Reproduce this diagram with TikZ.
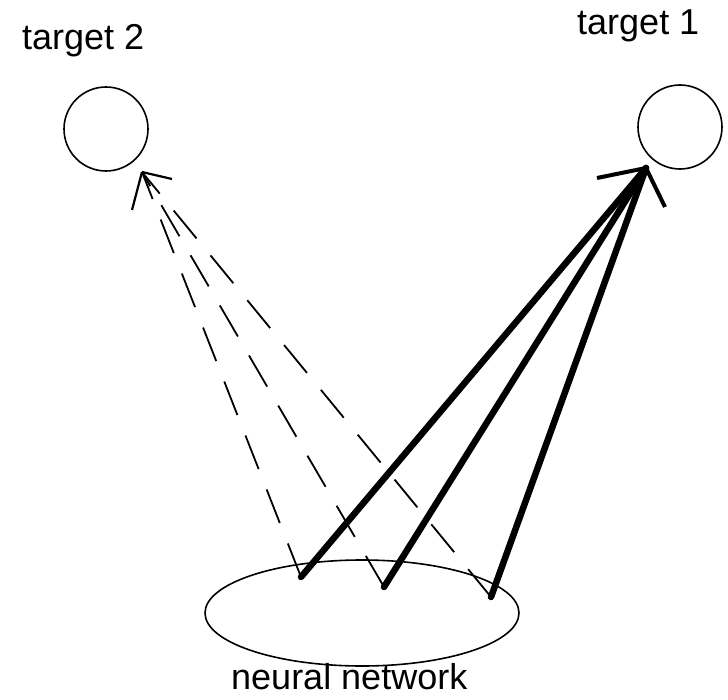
\documentclass[tikz,border=0pt]{standalone}
\usepackage{fontspec}
\setmainfont{Liberation Sans}
\usetikzlibrary{shapes.geometric}

\begin{document}
\begin{tikzpicture}[x=1pt, y=-1pt]

    % パラメータの定義
    \pgfmathsetmacro{\rT}{42}

    \tikzset{
        label text/.style={anchor=base west, inner sep=0pt, font=\fontsize{36}{40}\selectfont},
        target/.style={draw, circle, line width=1.6pt, minimum size=2*\rT, inner sep=0pt},
        solid arrow/.style={line width=6.5pt, line cap=round},
        dashed arrow/.style={line width=1.8pt, dash pattern=on 36pt off 22pt},
    }

    \useasboundingbox (0,0) rectangle (728,700);

    % ノードの配置
    \node[target] (t2) at (106,129) {};
    \node[target] (t1) at (680,127) {};
    \node[draw, ellipse, line width=1.6pt, minimum width=314, minimum height=106, inner sep=0pt] (nn) at (362,613) {};

    \node[label text] (t2label) at (22,50) {target 2};
    \node[label text] (t1label) at (577,35) {target 1};
    \node[label text] (nnlabel) at (231,689) {neural network};

    % 点の定義
    \coordinate (S1) at (301,577);
    \coordinate (S2) at (384,587);
    \coordinate (S3) at (491,597);

    \coordinate (T1) at (646,168);
    \coordinate (T2) at (142,172);

    % 破線の描画
    \draw [dashed arrow] (S1) -- (T2);
    \draw [dashed arrow] (S2) -- (T2);
    \draw [dashed arrow] (S3) -- (T2);
    \draw [line width=2.2pt] (T2) -- ++(30,7);
    \draw [line width=2.2pt] (T2) -- ++(-10,38);

    % 実線の描画
    \draw [solid arrow] (S1) -- (T1);
    \draw [solid arrow] (S2) -- (T1);
    \draw [solid arrow] (S3) -- (T1);
    \draw [line width=4pt] (T1) -- ++(-49,10);
    \draw [line width=4pt] (T1) -- ++(19,39);

\end{tikzpicture}
\end{document}
